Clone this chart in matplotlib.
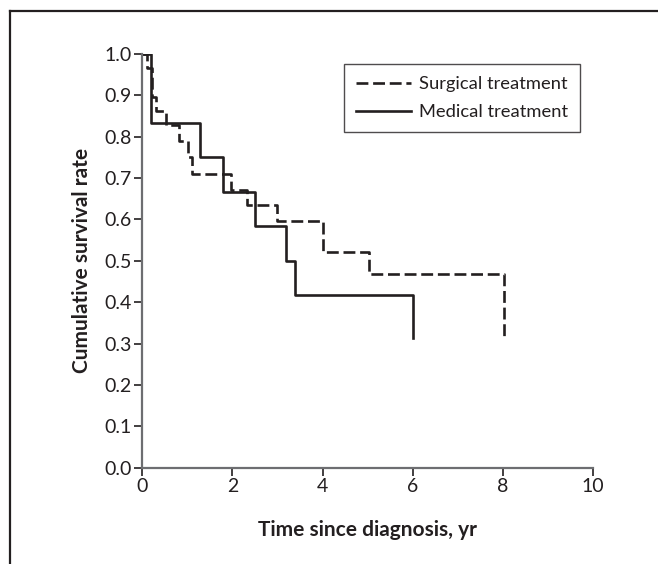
import matplotlib
matplotlib.use("Agg")
import matplotlib.pyplot as plt
from matplotlib.lines import Line2D

# Data
surgical_t = [0, 0.10, 0.21, 0.31, 0.53, 0.82, 1.02, 1.11, 1.97, 2.32, 2.98, 4.01, 5.02, 8.02]
surgical_s = [1.0, 0.965, 0.897, 0.862, 0.828, 0.790, 0.750, 0.711, 0.672, 0.636, 0.596, 0.522, 0.468, 0.313]
medical_t = [0, 0.19, 1.29, 1.79, 2.51, 3.19, 3.39, 6.0]
medical_s = [1.0, 0.833, 0.75, 0.667, 0.583, 0.5, 0.417, 0.313]
labels = ["Surgical treatment", "Medical treatment"]
xticks = [0, 2, 4, 6, 8, 10]
yticks = [0.0, 0.1, 0.2, 0.3, 0.4, 0.5, 0.6, 0.7, 0.8, 0.9, 1.0]

ink = "#231f20"
spine_col = "#6d6e71"

plt.rcParams['font.family'] = ['Lato', 'DejaVu Sans']

fig = plt.figure(figsize=(6.58, 5.64), dpi=100)
ax = fig.add_axes([0.2163, 0.1709, 0.6849, 0.7334])

ax.step(surgical_t, surgical_s, where='post', color=ink, lw=1.9,
        linestyle=(0, (4.5, 1.8)), label=labels[0])
ax.step(medical_t, medical_s, where='post', color=ink, lw=1.9,
        linestyle='-', label=labels[1])

ax.set_xlim(0, 10)
ax.set_ylim(0, 1.0)
ax.set_xticks(xticks)
ax.set_xticklabels([str(v) for v in xticks])
ax.set_yticks(yticks)
ax.set_yticklabels([f"{v:.1f}" for v in yticks])

for s in ['top', 'right']:
    ax.spines[s].set_visible(False)
for s in ['left', 'bottom']:
    ax.spines[s].set_color(spine_col)
    ax.spines[s].set_linewidth(1.6)

ax.tick_params(axis='both', direction='out', length=5.5, width=1.2, color=ink,
               labelsize=14, labelcolor=ink, pad=2)

ax.set_xlabel("Time since diagnosis, yr", fontsize=15, fontweight='bold',
              color=ink, labelpad=18)
ax.set_ylabel("Cumulative survival rate", fontsize=15, fontweight='bold',
              color=ink, labelpad=9)

leg = ax.legend(loc='upper left', bbox_to_anchor=(0.4475, 0.975),
                frameon=True, fancybox=False, fontsize=13.2,
                handlelength=3.0, handletextpad=0.45, borderpad=0.65,
                labelspacing=0.65, borderaxespad=0)
leg.get_frame().set_edgecolor(ink)
leg.get_frame().set_linewidth(1.0)
for t in leg.get_texts():
    t.set_color(ink)

# Figure frame: left and top border lines
fig.add_artist(Line2D([10/658, 10/658], [0, 1 - 11/564], color=ink, lw=1.6,
                      transform=fig.transFigure))
fig.add_artist(Line2D([10/658, 1], [1 - 11/564, 1 - 11/564], color=ink, lw=1.6,
                      transform=fig.transFigure))

fig.savefig("out.png", dpi=100)
